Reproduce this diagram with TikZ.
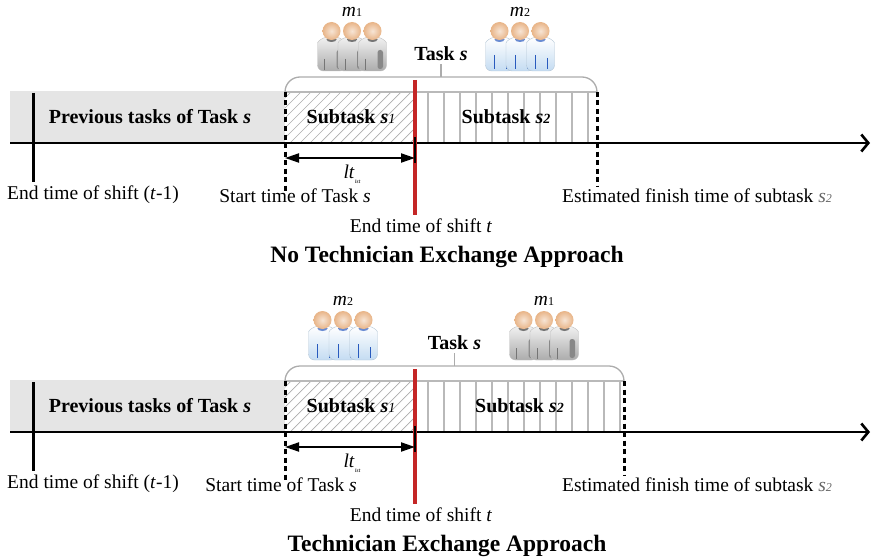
\documentclass[tikz,border=0pt]{standalone}
\usepackage{fontspec}
\setmainfont{Liberation Serif}
\usetikzlibrary{arrows.meta}

\definecolor{shiftred}{RGB}{196,38,38}
\definecolor{skin}{RGB}{232,180,135}
\definecolor{shirtblue}{RGB}{196,220,242}
\definecolor{stripeblue}{RGB}{40,90,190}

% three technicians side by side: #1 = x of the middle head, #2 = crew number
\newcommand{\techcrew}[2]{%
  \ifnum#2=1
    \colorlet{shirtlight}{gray!12}\colorlet{shirtdark}{gray!65}%
    \colorlet{shirtedge}{gray!50}\colorlet{shirttrim}{gray!45!black}%
  \else
    \colorlet{shirtlight}{white}\colorlet{shirtdark}{shirtblue}%
    \colorlet{shirtedge}{shirtblue!75!gray}\colorlet{shirttrim}{stripeblue}%
  \fi
  \foreach \k in {-1,0,1} {
    \begin{scope}[shift={(#1+20.5*\k,31)}]
      \path[top color=shirtlight, bottom color=shirtdark, draw=shirtedge, rounded corners=6pt]
        (-14,40) -- (-14,18) .. controls (-14,10) and (-8,6.5) .. (0,6.5)
        .. controls (8,6.5) and (14,10) .. (14,18) -- (14,40) -- cycle;
      \ifnum#2=1
        \fill[shirttrim!60, rounded corners=2.5pt] (5,19) rectangle (10.5,38);
        \draw[shirttrim!70, line width=0.8pt] (-7,28) -- (-7,39);
      \else
        \draw[shirttrim, line width=0.9pt] (-5,24) -- (-5,38);
        \draw[shirttrim, line width=0.9pt] (7,27) -- (7,38);
      \fi
      \fill[shirttrim!70] (0,8.5) ellipse (5pt and 2.5pt);
      \shade[inner color=skin!35!white, outer color=skin] (0,0) circle (9pt);
    \end{scope}
  }%
}

\begin{document}
\begin{tikzpicture}[x=1pt, y=-1pt,
    font=\fontsize{19.5}{23}\selectfont,
    timeline/.style={line width=2.6pt, -{Straight Barb[length=7pt,width=17pt]}},
    shiftline/.style={line width=3pt},
    dashline/.style={line width=3pt, dash pattern=on 5pt off 3.5pt},
    redline/.style={line width=3.6pt, draw=shiftred},
    ltarrow/.style={line width=2pt, {Triangle[length=14pt,width=9pt]}-{Triangle[length=14pt,width=9pt]}},
    hatch/.style={draw=gray!65, line width=0.7pt},
    rule/.style={draw=gray!55, line width=1.2pt},
    boxtop/.style={draw=gray!55, line width=2.2pt},
    brace/.style={draw=gray!65, line width=1.3pt, rounded corners=15pt},
    boxlbl/.style={font=\fontsize{20}{24}\selectfont\bfseries},
    ttl/.style={font=\fontsize{23.5}{28}\selectfont\bfseries}]

\useasboundingbox (0,0) rectangle (872,559);

\foreach \dy/\xe/\xa/\na/\xb/\nb/\xs/\ttl in {
    0/597/352/1/520/2/295/No Technician Exchange Approach,
    289/624/343/2/544/1/281/Technician Exchange Approach} {
\begin{scope}[yshift=-\dy pt]
    % work done before task s
    \fill[gray!20] (10,91) rectangle (285,143);
    \node[boxlbl] (prev) at (150,117) {Previous tasks of Task \textit{s}};

    % subtask s1 (hatched) and subtask s2 (ruled)
    \begin{scope}
        \clip (285,92) rectangle (415,143);
        \foreach \h in {230,240,...,420} \draw[hatch] (\h,143) -- (\h+51,92);
    \end{scope}
    \foreach \v in {428,444,...,\xe} \draw[rule] (\v,92) -- (\v,143);
    \draw[boxtop] (285,92) -- (\xe,92);
    \node[boxlbl] (sub1) at (351,117) {Subtask \textit{s}{\fontsize{14}{14}\selectfont\itshape\mdseries 1}};
    \node[boxlbl] (sub2) at ({(415+\xe)/2},117) {Subtask \textit{s}{\fontsize{14}{14}\selectfont\itshape 2}};

    % the whole task
    \coordinate (mid) at ({(285+\xe)/2},77);
    \draw[brace] (285,92) -- (285,77) -- (\xe,77) -- (\xe,92);
    \draw[brace] (mid) -- ++(0,-13) coordinate (tick);
    \node[anchor=south, inner sep=3.5pt, font=\fontsize{20}{24}\selectfont\bfseries] (task) at (tick) {Task \textit{s}};

    % the two crews
    \techcrew{\xa}{\na}
    \techcrew{\xb}{\nb}
    \node (ma) at (\xa,12) {\textit{m}{\fontsize{12}{12}\selectfont\na}};
    \node (mb) at (\xb,12) {\textit{m}{\fontsize{12}{12}\selectfont\nb}};

    % time axis and markers
    \coordinate (origin) at (10,143);
    \coordinate (tip) at (870,143);
    \draw[timeline] (origin) -- (tip);
    \draw[shiftline] (33,93) -- (33,182);
    \draw[dashline] (285,92) -- (285,192);
    \draw[dashline] (\xe,92) -- (\xe,186);
    \draw[redline] (415,80) -- (415,215);
    \coordinate (start) at (285,158);
    \coordinate (cut) at (415,158);
    \draw[ltarrow] (start) -- (cut);
    \draw[line width=1.3pt] (415,137) -- (415,163);
    \node (lt) at (352,174) {\textit{lt}\raisebox{-5pt}{\fontsize{6}{6}\selectfont\itshape ist}};

    \node (prevend) at (93,195) {End time of shift (\textit{t}-1)};
    \node (stlbl) at (\xs,196) {Start time of Task \textit{s}};
    \node (endlbl) at (421,226) {End time of shift \textit{t}};
    \node (estlbl) at (697,196) {Estimated finish time of subtask \textcolor{gray!80!black}{\textit{s}{\fontsize{12}{12}\selectfont\itshape 2}}};
    \node[ttl] (title) at (447,257) {\ttl};
\end{scope}
}
\end{tikzpicture}
\end{document}
